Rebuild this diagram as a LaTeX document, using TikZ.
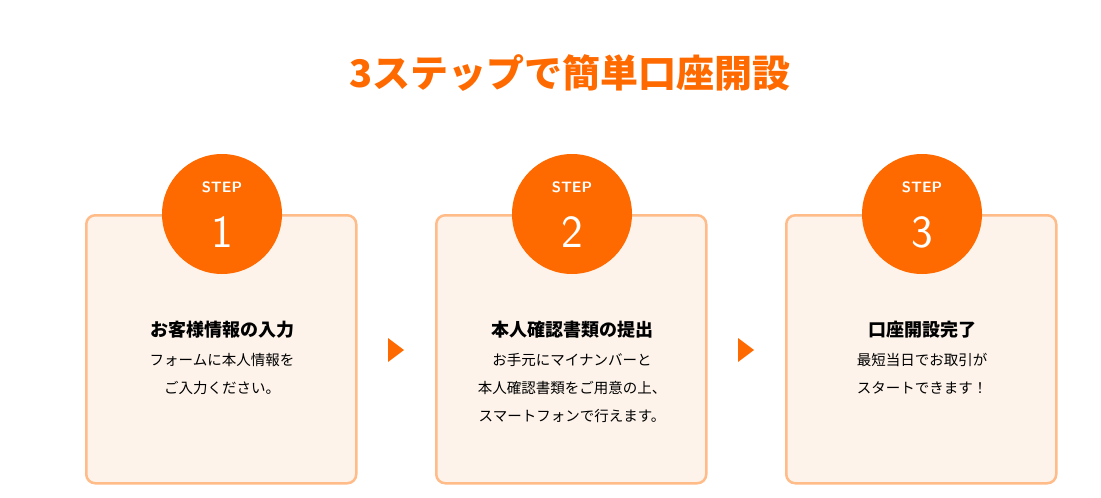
\documentclass[tikz,border=0pt]{standalone}
\usepackage{fontspec}
\setmainfont{Noto Sans CJK JP}
\usetikzlibrary{positioning}
\definecolor{stepor}{HTML}{FF6A00}
\definecolor{boxline}{HTML}{FFBB88}
\definecolor{boxfill}{HTML}{FDF3EA}
\tikzset{
  stepbox/.style={draw=boxline, line width=2.5pt, fill=boxfill, rounded corners=9pt, minimum width=270pt, minimum height=268pt, anchor=north west},
  stepcircle/.style={circle, fill=stepor, minimum size=120pt, inner sep=0pt},
  heading/.style={font=\fontsize{18}{22}\selectfont\bfseries},
  body/.style={font=\fontsize{14.5}{28}\selectfont, align=center, anchor=north},
  arrowtri/.style={fill=stepor}
}
\begin{document}
\begin{tikzpicture}[x=1pt, y=-1pt]
    \useasboundingbox (0,0) rectangle (1101,498);
    % Title
    \node (title) [text=stepor, font=\fontsize{38}{44}\selectfont\bfseries] at (570,73) {3ステップで簡単口座開設};

    % Boxes
    \foreach \n/\x in {1/85, 2/435, 3/785} {
        \node (box\n) [stepbox] at (\x,214) {};
        \node (circ\n) [stepcircle] at (\x+137,214) {};
        \node (steplbl\n) [text=white, font=\fontsize{15}{16}\selectfont\sffamily\bfseries] at (\x+137,187) {STEP};
        \node (num\n) [text=white, font=\fontsize{46}{50}\selectfont\sffamily] at (\x+137,232) {\n};
    }

    % Texts
    \node (head1) [heading] at (222,330) {お客様情報の入力};
    \node (body1) [body] at (222,350) {フォームに本人情報を\\ご入力ください。};
    \node (head2) [heading] at (572,330) {本人確認書類の提出};
    \node (body2) [body] at (572,350) {お手元にマイナンバーと\\本人確認書類をご用意の上、\\スマートフォンで行えます。};
    \node (head3) [heading] at (922,330) {口座開設完了};
    \node (body3) [body] at (922,350) {最短当日でお取引が\\スタートできます！};

    % Arrows
    \fill[arrowtri] (388,338) -- (404,350) -- (388,362) -- cycle;
    \fill[arrowtri] (738,338) -- (754,350) -- (738,362) -- cycle;
\end{tikzpicture}
\end{document}
